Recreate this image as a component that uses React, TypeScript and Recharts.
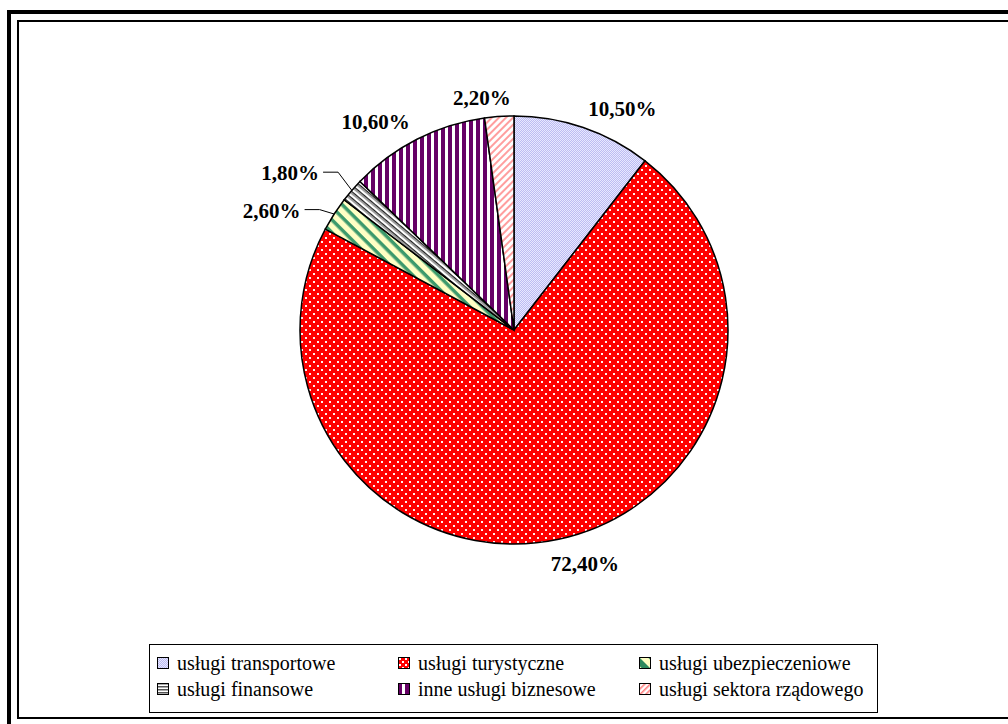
import { PieChart, Pie, Cell, Legend } from 'recharts';

// udział w eksporcie usług (%)
const categories = [
  'usługi transportowe',
  'usługi turystyczne',
  'usługi ubezpieczeniowe',
  'usługi finansowe',
  'inne usługi biznesowe',
  'usługi sektora rządowego',
];
const shares = [10.5, 72.4, 2.6, 1.8, 10.6, 2.2];

const sliceFills = ['pTransport', 'pTourism', 'pInsurance', 'pFinance', 'pBusiness', 'pGov'];
const legendFills = ['pTransport', 'pTourismLg', 'pInsuranceLg', 'pFinanceLg', 'pBusiness', 'pGovLg'];

// label tweaks relative to the default spot on the mid angle
const labelNudge: [number, number][] = [
  [28, 14],
  [19, -9],
  [-34, 15],
  [-36, 5],
  [-26, 13],
  [-15, 15],
];
const withLeader = [false, false, true, true, false, false];

const data = categories.map((name, i) => ({ name, value: shares[i] }));

const SERIF = "'Liberation Serif', 'DejaVu Serif', 'Noto Serif', Tinos, Times, serif";
const RAD = Math.PI / 180;

function Patterns() {
  return (
    <svg width={0} height={0} style={{ position: 'absolute' }}>
      <defs>
        <pattern id="pTransport" width={2} height={2} patternUnits="userSpaceOnUse">
          <rect width={2} height={2} fill="#bcbcf2" />
          <rect width={1} height={1} fill="#e8e8ff" />
          <rect x={1} y={1} width={1} height={1} fill="#e8e8ff" />
        </pattern>
        <pattern id="pTourism" width={8} height={8} patternUnits="userSpaceOnUse">
          <rect width={8} height={8} fill="#ff0000" />
          <rect x={1} y={1} width={2} height={2} fill="#fff0f0" />
          <rect x={5} y={5} width={2} height={2} fill="#fff0f0" />
        </pattern>
        <pattern id="pTourismLg" width={6} height={6} patternUnits="userSpaceOnUse">
          <rect width={6} height={6} fill="#ff0000" />
          <rect x={1} y={1} width={2} height={2} fill="#fff" />
          <rect x={4} y={4} width={2} height={2} fill="#fff" />
        </pattern>
        <pattern id="pInsurance" width={9} height={9} patternUnits="userSpaceOnUse" patternTransform="rotate(45)">
          <rect width={9} height={9} fill="#ffffc4" />
          <rect width={9} height={3.5} fill="#3c9a6c" />
        </pattern>
        <pattern id="pInsuranceLg" width={12} height={12} patternUnits="userSpaceOnUse" patternTransform="rotate(45)">
          <rect width={12} height={12} fill="#ffffc4" />
          <rect width={12} height={6} fill="#2e8a5c" />
        </pattern>
        <pattern id="pFinance" width={5} height={5} patternUnits="userSpaceOnUse" patternTransform="rotate(40)">
          <rect width={5} height={5} fill="#ffffff" />
          <rect width={5} height={1.2} fill="#222" />
          <rect y={1.2} width={5} height={1.6} fill="#8a8a8a" />
        </pattern>
        <pattern id="pFinanceLg" width={3} height={3} patternUnits="userSpaceOnUse">
          <rect width={3} height={3} fill="#ffffff" />
          <rect width={3} height={1.5} fill="#555" />
        </pattern>
        <pattern id="pBusiness" width={7} height={7} patternUnits="userSpaceOnUse">
          <rect width={7} height={7} fill="#ffffff" />
          <rect width={4} height={7} fill="#660066" />
        </pattern>
        <pattern id="pGov" width={5} height={5} patternUnits="userSpaceOnUse" patternTransform="rotate(-45)">
          <rect width={5} height={5} fill="#ffffff" />
          <rect width={5} height={2} fill="#ff9e9e" />
        </pattern>
        <pattern id="pGovLg" width={4} height={4} patternUnits="userSpaceOnUse" patternTransform="rotate(-45)">
          <rect width={4} height={4} fill="#ffffff" />
          <rect width={4} height={1.6} fill="#ff8080" />
        </pattern>
      </defs>
    </svg>
  );
}

function renderLabel(props: any) {
  const { cx, cy, midAngle, outerRadius, index } = props;
  const cos = Math.cos(-midAngle * RAD);
  const sin = Math.sin(-midAngle * RAD);
  const r = outerRadius + 34;
  const x = cx + r * cos + labelNudge[index][0];
  const y = cy + r * sin + labelNudge[index][1];
  const text = shares[index].toFixed(2).replace('.', ',') + '%';
  return (
    <g key={`lbl-${index}`}>
      {withLeader[index] && (
        <polyline
          points={`${x + 33},${y - 1} ${x + 48},${y - 1} ${cx + outerRadius * cos},${cy + outerRadius * sin}`}
          fill="none"
          stroke="#000"
          strokeWidth={1}
        />
      )}
      <text
        x={x}
        y={y}
        textAnchor="middle"
        dominantBaseline="central"
        fill="#000"
        fontFamily={SERIF}
        fontSize={21}
        fontWeight="bold"
      >
        {text}
      </text>
    </g>
  );
}

function LegendBox() {
  return (
    <div
      style={{
        boxSizing: 'border-box',
        width: 729,
        height: 69,
        border: '1px solid #000',
        background: '#fff',
        padding: '5px 0 0 7px',
        display: 'grid',
        gridTemplateColumns: '241px 241px 241px',
        gridAutoRows: '26px',
        fontFamily: SERIF,
        fontSize: 20,
        color: '#000',
      }}
    >
      {categories.map((c, i) => (
        <div key={c} style={{ display: 'flex', alignItems: 'center', whiteSpace: 'nowrap' }}>
          <svg width={12} height={12} style={{ marginRight: 8, flex: 'none' }}>
            <rect x={0.5} y={0.5} width={11} height={11} fill={`url(#${legendFills[i]})`} stroke="#000" strokeWidth={1} />
          </svg>
          <span>{c}</span>
        </div>
      ))}
    </div>
  );
}

export default function App() {
  return (
    <div style={{ position: 'absolute', left: 0, top: 0, width: 1008, height: 724, overflow: 'hidden', background: '#fff' }}>
      <Patterns />
      <div
        style={{
          position: 'absolute',
          left: 7,
          top: 10,
          width: 1020,
          height: 740,
          border: '4px solid #000',
          boxSizing: 'border-box',
        }}
      />
      <div
        style={{
          position: 'absolute',
          left: 17,
          top: 20,
          width: 1010,
          height: 699,
          border: '2px solid #000',
          boxSizing: 'border-box',
        }}
      />
      <div style={{ position: 'absolute', left: 0, top: 0 }}>
        <PieChart width={1008} height={724} margin={{ top: 0, right: 0, bottom: 0, left: 0 }}>
          <Pie
            data={data}
            dataKey="value"
            nameKey="name"
            cx={514}
            cy={330}
            outerRadius={214}
            startAngle={90}
            endAngle={-270}
            stroke="#000"
            strokeWidth={1.5}
            label={renderLabel}
            labelLine={false}
            isAnimationActive={false}
          >
            {data.map((d, i) => (
              <Cell key={d.name} fill={`url(#${sliceFills[i]})`} />
            ))}
          </Pie>
          <Legend
            content={() => <LegendBox />}
            wrapperStyle={{ left: 149, top: 644, bottom: 'auto', width: 729, height: 69 }}
          />
        </PieChart>
      </div>
    </div>
  );
}
